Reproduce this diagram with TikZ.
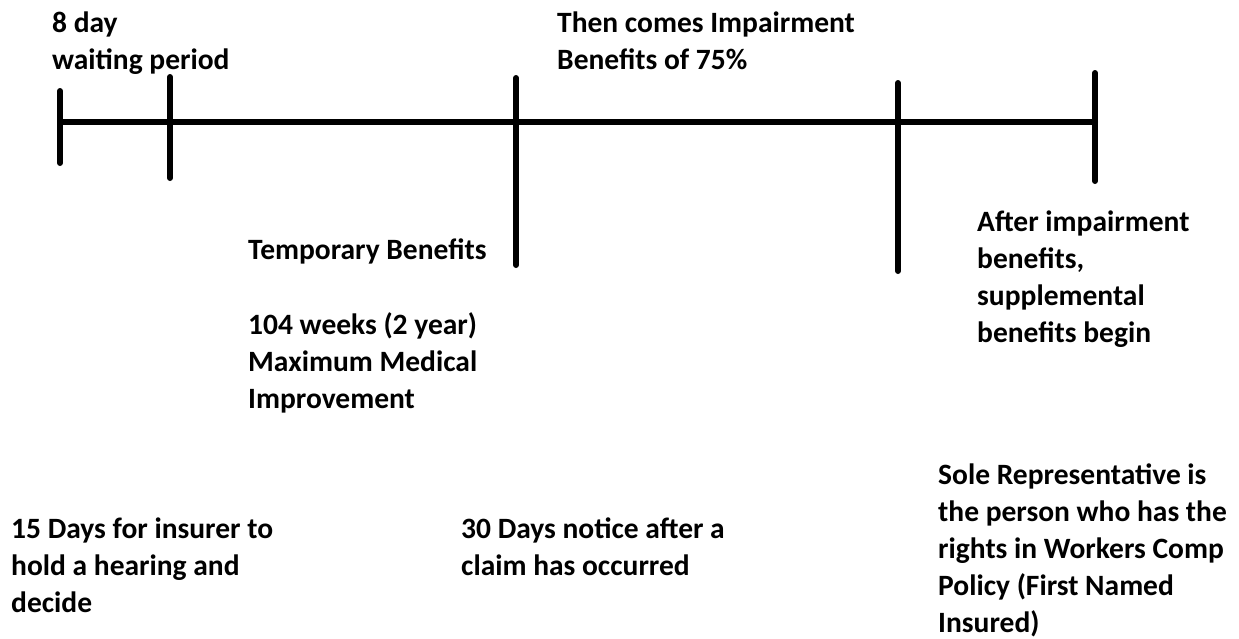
\documentclass[tikz,border=0pt]{standalone}
\usepackage{fontspec}
\setmainfont{Carlito}
\usetikzlibrary{positioning}

\begin{document}
\begin{tikzpicture}[x=1pt, y=-1pt,
  axis/.style={line width=6pt, line cap=round},
  note/.style={anchor=base west, align=left, inner sep=0pt,
    font=\bfseries\fontsize{29.5}{37}\selectfont}]
  \useasboundingbox (0,0) rectangle (1239,638);
  % time line
  \coordinate (start) at (60,122);
  \coordinate (end) at (1095,122);
  \draw[axis] (start) -- (end);
  % ticks
  \foreach \name/\x/\top/\bot in {wait/60/91/163, hear/170/77/178, temp/516/78/265,
                                  impair/898/83/271, supp/1095/73/181} {
    \coordinate (\name-top) at (\x,\top);
    \coordinate (\name-bot) at (\x,\bot);
    \draw[axis] (\name-top) -- (\name-bot);
  }
  % labels above (anchored at the last line)
  \node[note] (waiting) at (52,69) {8 day\\waiting period};
  \node[note] (impairment) at (557,69) {Then comes Impairment\\Benefits of 75\%};
  % labels below
  \node[note] (temporary) at (248,259) {Temporary Benefits};
  \node[note] (weeks) at (248,408) {104 weeks (2 year)\\Maximum Medical\\Improvement};
  \node[note] (after) at (977,342) {After impairment\\benefits,\\supplemental\\benefits begin};
  \node[note] (insurer) at (11,612) {15 Days for insurer to\\hold a hearing and\\decide};
  \node[note] (notice) at (461,575) {30 Days notice after a\\claim has occurred};
  \node[note] (sole) at (938,632) {Sole Representative is\\the person who has the\\rights in Workers Comp\\Policy (First Named\\Insured)};
\end{tikzpicture}
\end{document}
